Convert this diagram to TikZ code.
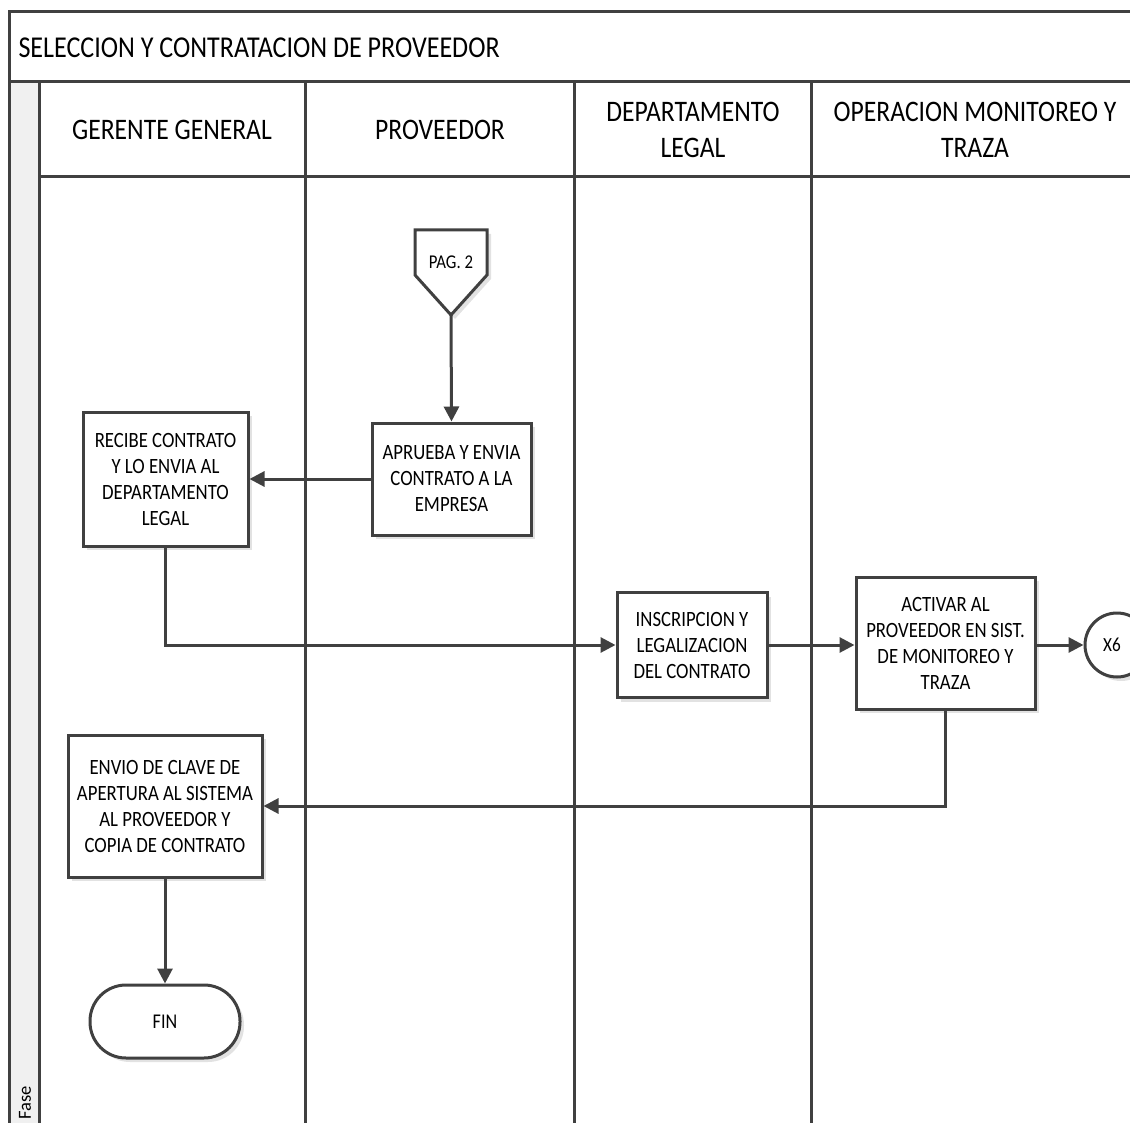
\documentclass[tikz,border=0pt]{standalone}
\usepackage{fontspec}
\setmainfont{Carlito}[FakeStretch=0.86]
\newfontfamily\fasefont{Carlito}
\usetikzlibrary{arrows.meta,shadows}
\definecolor{linegray}{HTML}{404040}
\definecolor{stripgray}{HTML}{F0F0F0}
\definecolor{shadowgray}{HTML}{E2E2E2}
\tikzset{
  frame/.style={draw=linegray,line width=3pt},
  flowbox/.style={draw=linegray,line width=3pt,fill=white,align=center,
    inner sep=0pt,font=\fontsize{21.8}{26}\selectfont,
    drop shadow={shadow xshift=4pt,shadow yshift=-4pt,fill=shadowgray,opacity=1}},
  flow/.style={draw=linegray,line width=3pt,
    -{Triangle[length=15pt,width=15pt]}},
  lanehead/.style={align=center,font=\fontsize{29.8}{36}\selectfont}
}
\begin{document}
\begin{tikzpicture}[x=1pt,y=-1pt]
\useasboundingbox (0,0) rectangle (1130,1123);

% phase strip on the left
\fill[stripgray] (9,82) rectangle (39,1125);

% pool frame, title band and lane header row
\draw[frame] (1132,12) -- (9,12) -- (9,1125);
\draw[frame] (9,82) -- (1132,82);
\draw[frame] (39,177) -- (1132,177);
\draw[frame] (39,82) -- (39,1125);
\foreach \x in {305,574,811}
  \draw[frame] (\x,82) -- (\x,1125);

% titles
\node[anchor=west,font=\fontsize{30.3}{36}\selectfont] (title) at (15,48)
  {SELECCION Y CONTRATACION DE PROVEEDOR};
\node[lanehead] (lgg) at (172,130) {GERENTE GENERAL};
\node[lanehead] (lpr) at (440,130) {PROVEEDOR};
\node[lanehead] (ldl) at (693,130) {DEPARTAMENTO\\LEGAL};
\node[lanehead] (lop) at (975,130) {OPERACION MONITOREO Y\\TRAZA};
\node[rotate=90,anchor=west,font=\fasefont\fontsize{18.5}{20}\selectfont] (fase)
  at (25,1123) {Fase};

% off-page connector
\fill[shadowgray] (419,234) -- (491,234) -- (491,279) -- (455,319) -- (419,279) -- cycle;
\draw[frame,fill=white,line join=miter] (415,230) -- (487,230) -- (487,275)
  -- (451,315) -- (415,275) -- cycle;
\node[font=\fontsize{19.5}{22}\selectfont] (pag) at (451,262) {PAG. 2};
\coordinate (pagtip) at (451,315);

% process steps
\node[flowbox,minimum width=159pt,minimum height=112pt] (aprueba) at (451.5,479)
  {APRUEBA Y ENVIA\\CONTRATO A LA\\EMPRESA};
\node[flowbox,minimum width=165pt,minimum height=134pt] (recibe) at (165.5,479)
  {RECIBE CONTRATO\\Y LO ENVIA AL\\DEPARTAMENTO\\LEGAL};
\node[flowbox,minimum width=150pt,minimum height=105pt] (inscr) at (692,645)
  {INSCRIPCION Y\\LEGALIZACION\\DEL CONTRATO};
\node[flowbox,minimum width=179pt,minimum height=132pt] (activar) at (945.5,643)
  {ACTIVAR AL\\PROVEEDOR EN SIST.\\DE MONITOREO Y\\TRAZA};
\node[flowbox,circle,minimum size=64pt,font=\fontsize{20}{24}\selectfont] (xsix)
  at (1117,645) {X6\hspace*{10pt}};
\node[flowbox,minimum width=194pt,minimum height=142pt] (envio) at (165,806)
  {ENVIO DE CLAVE DE\\APERTURA AL SISTEMA\\AL PROVEEDOR Y\\COPIA DE CONTRATO};
\node[flowbox,rounded corners=36pt,minimum width=150pt,minimum height=73pt,
  font=\fontsize{21}{24}\selectfont] (fin) at (165,1021.5) {FIN};

% connectors
\draw[flow] (pagtip) -- (aprueba.north);
\draw[flow] (aprueba.west) -- (recibe.east);
\draw[flow] (recibe.south) |- (inscr.west);
\draw[flow] (inscr.east) -- (inscr.east -| activar.west);
\draw[flow] (activar.east |- xsix.west) -- (xsix.west);
\draw[flow] (activar.south) |- (envio.east);
\draw[flow] (envio.south) -- (fin.north);
\end{tikzpicture}
\end{document}
